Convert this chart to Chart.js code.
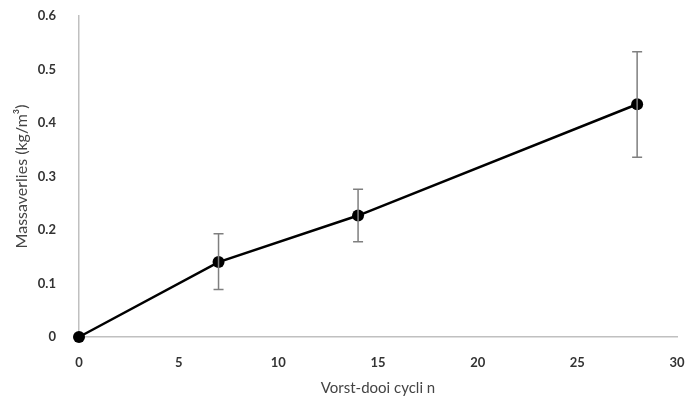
<!DOCTYPE html>
<html>
<head>
<meta charset="utf-8">
<script src="https://cdn.jsdelivr.net/npm/chart.js@4/dist/chart.umd.min.js"></script>
<style>
  html, body { margin: 0; padding: 0; background: #fff; }
  #wrap { width: 686px; height: 405px; }
</style>
</head>
<body>
<div id="wrap"><canvas id="chart" width="686" height="405"></canvas></div>
<script>
// Vorst-dooi cycli vs massaverlies
const cycles = [0, 7, 14, 28];
const massLoss = [0, 0.140, 0.227, 0.435];
const errLow = [0, 0.089, 0.178, 0.336];
const errHigh = [0, 0.193, 0.276, 0.533];
const xTicks = [0, 5, 10, 15, 20, 25, 30];
const yTicks = [0, 0.1, 0.2, 0.3, 0.4, 0.5, 0.6];

const FONT = 'Lato, "Open Sans", sans-serif';

// error bars drawn through the chart's own scales
const errorBars = {
  id: 'errorBars',
  afterDatasetsDraw(chart) {
    const { ctx, scales: { x, y } } = chart;
    ctx.save();
    ctx.strokeStyle = '#7f7f7f';
    ctx.lineWidth = 1.5;
    cycles.forEach((c, i) => {
      if (errHigh[i] === errLow[i]) return;
      const px = x.getPixelForValue(c);
      const top = y.getPixelForValue(errHigh[i]);
      const bot = y.getPixelForValue(errLow[i]);
      ctx.beginPath();
      ctx.moveTo(px, top); ctx.lineTo(px, bot);
      ctx.moveTo(px - 5, top); ctx.lineTo(px + 5, top);
      ctx.moveTo(px - 5, bot); ctx.lineTo(px + 5, bot);
      ctx.stroke();
    });
    ctx.restore();
  }
};

new Chart(document.getElementById('chart'), {
  type: 'line',
  data: {
    datasets: [{
      data: cycles.map((c, i) => ({ x: c, y: massLoss[i] })),
      borderColor: '#000',
      backgroundColor: '#000',
      borderWidth: 2.5,
      pointRadius: 6,
      pointBackgroundColor: '#000',
      pointBorderWidth: 0,
      tension: 0,
      clip: false
    }]
  },
  options: {
    responsive: false,
    animation: false,
    layout: { padding: { top: 16, right: 9, bottom: 8, left: 8 } },
    plugins: { legend: { display: false }, tooltip: { enabled: false } },
    scales: {
      x: {
        type: 'linear',
        min: 0, max: 30,
        afterBuildTicks: s => { s.ticks = xTicks.map(v => ({ value: v })); },
        afterFit: s => { s.height = 60; s.paddingLeft = 0; s.paddingRight = 0; },
        grid: { display: false },
        border: { display: true, color: '#c0c0c0', width: 1.5 },
        ticks: { color: '#333', font: { family: FONT, size: 13, weight: 'bold' }, padding: 10, maxRotation: 0 },
        title: { display: true, text: 'Vorst-dooi cycli n', color: '#444', font: { family: FONT, size: 15 }, padding: { top: 3, bottom: 0 } }
      },
      y: {
        min: 0, max: 0.6,
        afterBuildTicks: s => { s.ticks = yTicks.map(v => ({ value: v })); },
        afterFit: s => { s.width = 71; s.paddingTop = 0; s.paddingBottom = 0; },
        grid: { display: false },
        border: { display: true, color: '#c0c0c0', width: 1.5 },
        ticks: { color: '#333', font: { family: FONT, size: 13, weight: 'bold' }, padding: 15,
          callback: v => String(Math.round(v * 10) / 10) },
        title: { display: true, text: 'Massaverlies (kg/m³)', color: '#444', font: { family: FONT, size: 16 }, padding: { top: 4, bottom: 0 } }
      }
    }
  },
  plugins: [errorBars]
});
</script>
</body>
</html>
